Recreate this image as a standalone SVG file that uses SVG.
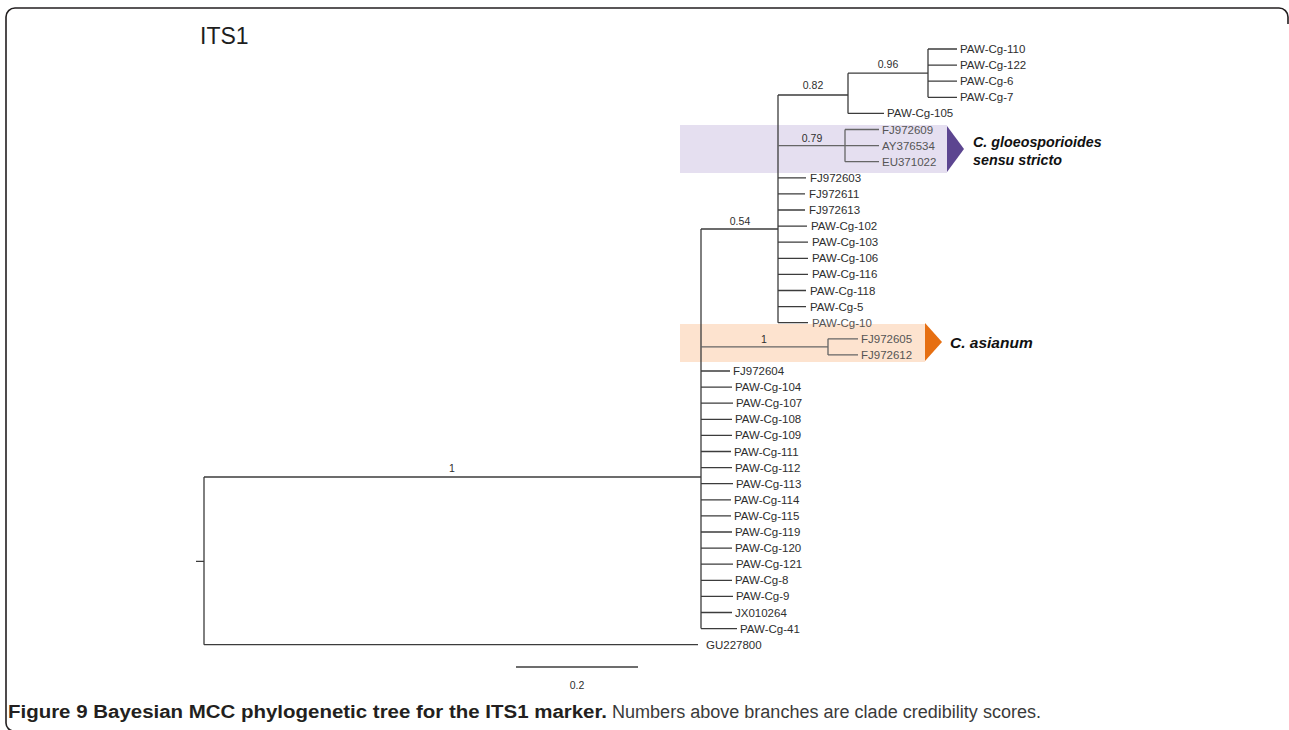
<svg xmlns="http://www.w3.org/2000/svg" width="1289" height="730" viewBox="0 0 1289 730">
<style>
.tip{font-family:"Liberation Sans",Arial,sans-serif;font-size:11.5px;fill:#2e2e2e}
.tipg{font-family:"Liberation Sans",Arial,sans-serif;font-size:11.5px;fill:#555}
.sup{font-family:"Liberation Sans",Arial,sans-serif;font-size:10.5px;fill:#2e2e2e;text-anchor:middle}
.br{fill:none;stroke:#3c3c3c;stroke-width:1.3}
.brg{fill:none;stroke:#666;stroke-width:1.3}
.sp{font-family:"Liberation Sans",Arial,sans-serif;font-weight:bold;font-style:italic;fill:#111}
</style>
<rect x="0" y="0" width="1289" height="730" fill="#ffffff"/>
<path d="M14,731 A8,8 0 0 1 6,723 L6,17 A9,9 0 0 1 15,8 L1279,8 A9,9 0 0 1 1288,17 L1288,24" fill="none" stroke="#231f20" stroke-width="1.6"/>
<g id="title"><text x="200" y="44" font-family="Liberation Sans,Arial,sans-serif" font-size="23" fill="#1e1e1e">ITS1</text></g>

<g id="clade-gloeosporioides">
<rect x="680" y="125" width="267" height="48" fill="#e5dff0"/>
<polygon points="947,126 964,149 947,172" fill="#5c4590"/>
<text class="sp" font-size="14.3" x="973" y="147">C. gloeosporioides</text>
<text class="sp" font-size="14.3" x="973" y="165">sensu stricto</text>
</g>
<g id="clade-asianum">
<rect x="680" y="324" width="245" height="38" fill="#fde3cf"/>
<polygon points="925,323 942,342 925,361" fill="#e66f12"/>
<text class="sp" font-size="15.5" x="950" y="348">C. asianum</text>
</g>

<g id="connectors">
<path class="br" d="M196,561.4 H204 M204,477 V644.7 M204,477 H701 M204,644.7 H698 M701,229 V628.6 M701,229 H778 M778,95 V322.7 M778,95 H848 M848,73.2 V113.4 M848,113.4 H884 M848,73.2 H928 M928,49 V97.3 M928,49 H957 M928,65.1 H957 M928,81.2 H957 M928,97.3 H957"/>
<path class="br" d="M778,177.8 H806 M778,193.9 H805 M778,210 H805 M778,226.1 H807 M778,242.2 H808 M778,258.3 H808 M778,274.4 H808 M778,290.5 H806 M778,306.6 H806 M778,322.7 H808"/>
<path class="brg" d="M778,145.6 H845 M845,129.5 V161.7 M845,129.5 H879 M845,145.6 H879 M845,161.7 H879"/>
<path class="brg" d="M701,346.9 H828 M828,338.8 V354.9 M828,338.8 H858 M828,354.9 H858"/>
<path class="br" d="M701,371 H730 M701,387.1 H732 M701,403.2 H733 M701,419.3 H732 M701,435.4 H732 M701,451.5 H731 M701,467.6 H732 M701,483.7 H733 M701,499.8 H731 M701,515.9 H731 M701,532 H732 M701,548.1 H732 M701,564.2 H733 M701,580.3 H732 M701,596.4 H733 M701,612.5 H732 M701,628.6 H737"/>
<path class="br" d="M516,667 H638"/>
</g>

<g id="support">
<text class="sup" x="888" y="67.5">0.96</text>
<text class="sup" x="813" y="89">0.82</text>
<text class="sup" x="812" y="142">0.79</text>
<text class="sup" x="740" y="224.5">0.54</text>
<text class="sup" x="764" y="342.5">1</text>
<text class="sup" x="452" y="472">1</text>
<text class="sup" x="577" y="689">0.2</text>
</g>

<g id="tips">
<g id="t-PAW-Cg-110"><text class="tip" x="960" y="53">PAW-Cg-110</text></g>
<g id="t-PAW-Cg-122"><text class="tip" x="960" y="69.1">PAW-Cg-122</text></g>
<g id="t-PAW-Cg-6"><text class="tip" x="960" y="85.2">PAW-Cg-6</text></g>
<g id="t-PAW-Cg-7"><text class="tip" x="960" y="101.3">PAW-Cg-7</text></g>
<g id="t-PAW-Cg-105"><text class="tip" x="887" y="117.4">PAW-Cg-105</text></g>
<g id="t-FJ972609"><text class="tipg" x="882" y="133.5">FJ972609</text></g>
<g id="t-AY376534"><text class="tipg" x="882" y="149.6">AY376534</text></g>
<g id="t-EU371022"><text class="tipg" x="882" y="165.7">EU371022</text></g>
<g id="t-FJ972603"><text class="tip" x="810" y="181.8">FJ972603</text></g>
<g id="t-FJ972611"><text class="tip" x="809" y="197.9">FJ972611</text></g>
<g id="t-FJ972613"><text class="tip" x="809" y="214">FJ972613</text></g>
<g id="t-PAW-Cg-102"><text class="tip" x="811" y="230.1">PAW-Cg-102</text></g>
<g id="t-PAW-Cg-103"><text class="tip" x="812" y="246.2">PAW-Cg-103</text></g>
<g id="t-PAW-Cg-106"><text class="tip" x="812" y="262.3">PAW-Cg-106</text></g>
<g id="t-PAW-Cg-116"><text class="tip" x="812" y="278.4">PAW-Cg-116</text></g>
<g id="t-PAW-Cg-118"><text class="tip" x="810" y="294.5">PAW-Cg-118</text></g>
<g id="t-PAW-Cg-5"><text class="tip" x="810" y="310.6">PAW-Cg-5</text></g>
<g id="t-PAW-Cg-10"><text class="tipg" x="812" y="326.7">PAW-Cg-10</text></g>
<g id="t-FJ972605"><text class="tipg" x="861" y="342.8">FJ972605</text></g>
<g id="t-FJ972612"><text class="tipg" x="861" y="358.9">FJ972612</text></g>
<g id="t-FJ972604"><text class="tip" x="733" y="375">FJ972604</text></g>
<g id="t-PAW-Cg-104"><text class="tip" x="735" y="391.1">PAW-Cg-104</text></g>
<g id="t-PAW-Cg-107"><text class="tip" x="736" y="407.2">PAW-Cg-107</text></g>
<g id="t-PAW-Cg-108"><text class="tip" x="735" y="423.3">PAW-Cg-108</text></g>
<g id="t-PAW-Cg-109"><text class="tip" x="735" y="439.4">PAW-Cg-109</text></g>
<g id="t-PAW-Cg-111"><text class="tip" x="734" y="455.5">PAW-Cg-111</text></g>
<g id="t-PAW-Cg-112"><text class="tip" x="735" y="471.6">PAW-Cg-112</text></g>
<g id="t-PAW-Cg-113"><text class="tip" x="736" y="487.7">PAW-Cg-113</text></g>
<g id="t-PAW-Cg-114"><text class="tip" x="734" y="503.8">PAW-Cg-114</text></g>
<g id="t-PAW-Cg-115"><text class="tip" x="734" y="519.9">PAW-Cg-115</text></g>
<g id="t-PAW-Cg-119"><text class="tip" x="735" y="536">PAW-Cg-119</text></g>
<g id="t-PAW-Cg-120"><text class="tip" x="735" y="552.1">PAW-Cg-120</text></g>
<g id="t-PAW-Cg-121"><text class="tip" x="736" y="568.2">PAW-Cg-121</text></g>
<g id="t-PAW-Cg-8"><text class="tip" x="735" y="584.3">PAW-Cg-8</text></g>
<g id="t-PAW-Cg-9"><text class="tip" x="736" y="600.4">PAW-Cg-9</text></g>
<g id="t-JX010264"><text class="tip" x="735" y="616.5">JX010264</text></g>
<g id="t-PAW-Cg-41"><text class="tip" x="740" y="632.6">PAW-Cg-41</text></g>
<g id="t-GU227800"><text class="tip" x="706" y="648.7">GU227800</text></g>
</g>

<g id="caption">
<text x="8" y="718" font-family="Liberation Sans,Arial,sans-serif" font-size="18" font-weight="bold" fill="#231f20" textLength="599" lengthAdjust="spacingAndGlyphs">Figure 9 Bayesian MCC phylogenetic tree for the ITS1 marker.</text>
<text x="612" y="718" font-family="Liberation Sans,Arial,sans-serif" font-size="18" fill="#3a3a3a" textLength="429" lengthAdjust="spacingAndGlyphs">Numbers above branches are clade credibility scores.</text>
</g>
</svg>
